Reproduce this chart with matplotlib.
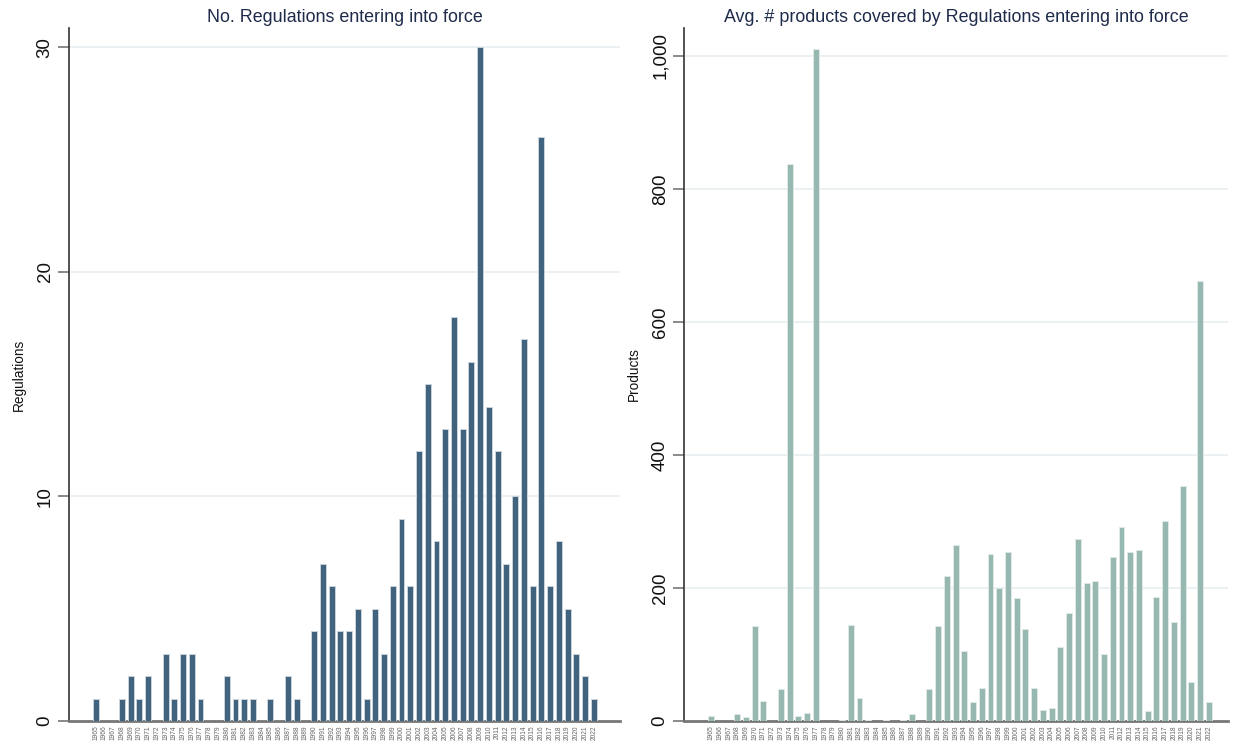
import matplotlib
matplotlib.use("Agg")
import matplotlib.pyplot as plt
from matplotlib.ticker import FuncFormatter

plt.rcParams['font.family'] = ['Liberation Sans', 'DejaVu Sans']

# Years shown on the category axis
years = list(range(1965, 2023))

# Number of regulations entering into force per year
regulations = [1, 0, 0, 1, 2, 1, 2, 0, 3, 1,
               3, 3, 1, 0, 0, 2, 1, 1, 1, 0,
               1, 0, 2, 1, 0, 4, 7, 6, 4, 4,
               5, 1, 5, 3, 6, 9, 6, 12, 15, 8,
               13, 18, 13, 16, 30, 14, 12, 7, 10, 17,
               6, 26, 6, 8, 5, 3, 2, 1]

# Average number of products covered by those regulations
products = [7, 0, 0, 10, 6, 143, 30, 0, 48, 838,
            8, 12, 1010, 0, 0, 1, 144, 34, 1, 0,
            1, 0, 1, 10, 0, 48, 143, 218, 265, 105,
            29, 50, 251, 200, 254, 185, 138, 50, 17, 19,
            111, 162, 274, 208, 211, 101, 246, 291, 254, 257,
            15, 186, 300, 149, 353, 58, 662, 28]

left_title = "No. Regulations entering into force"
right_title = "Avg. # products covered by Regulations entering into force"

W, H = 1234, 747
fig = plt.figure(figsize=(W / 100, H / 100), dpi=100)
fig.patch.set_facecolor("white")


def px_axes(x0, y0, x1, y1):
    return fig.add_axes([x0 / W, 1 - y1 / H, (x1 - x0) / W, (y1 - y0) / H])


def style(ax, values, color, edge, ticks, ylim, xlim, title, ylabel, fmt):
    pos = list(range(len(years)))
    bars = ax.bar(pos, values, width=0.68, color=color, edgecolor=edge,
                  linewidth=0.7, zorder=3)
    # empty years get no outline so nothing shows along the baseline
    for b, v in zip(bars, values):
        if v == 0:
            b.set_linewidth(0)
    ax.set_xlim(*xlim)
    ax.set_ylim(*ylim)
    ax.set_yticks(ticks)
    ax.yaxis.set_major_formatter(FuncFormatter(fmt))
    ax.grid(axis="y", color="#e8eff0", linewidth=1.2, zorder=0)
    ax.set_axisbelow(True)
    for s in ("top", "right"):
        ax.spines[s].set_visible(False)
    ax.spines["left"].set_color("#333333")
    ax.spines["left"].set_linewidth(1.2)
    ax.spines["bottom"].set_color("#777777")
    ax.spines["bottom"].set_linewidth(2.0)
    ax.tick_params(axis="y", length=8, width=1.2, color="#777777", labelsize=13.5,
                   labelrotation=90, pad=3, labelcolor="#111111")
    for lab in ax.get_yticklabels():
        lab.set_va("center")
    ax.set_xticks(pos)
    ax.set_xticklabels([str(y) for y in years], rotation=90, fontsize=4.8, color="#666666")
    ax.tick_params(axis="x", length=0, pad=3)
    ax.set_title(title, fontsize=12.9, color="#1f2b4a", pad=4)
    ax.set_ylabel(ylabel, fontsize=9.8, color="#111111", labelpad=8)


ax1 = px_axes(69, 28, 620, 721)
style(ax1, regulations, "#41637d", "#c9d4dc", [0, 10, 20, 30], (0, 30.85), (-3.05, 60.0),
      left_title, "Regulations", lambda v, p: f"{int(v)}")

ax2 = px_axes(684, 28, 1228, 721)
style(ax2, products, "#97b8b0", "#dfe9e6", [0, 200, 400, 600, 800, 1000], (0, 1042),
      (-3.1, 59.2), right_title, "Products", lambda v, p: f"{int(v):,}")

fig.savefig("out.png", dpi=100, facecolor="white")
